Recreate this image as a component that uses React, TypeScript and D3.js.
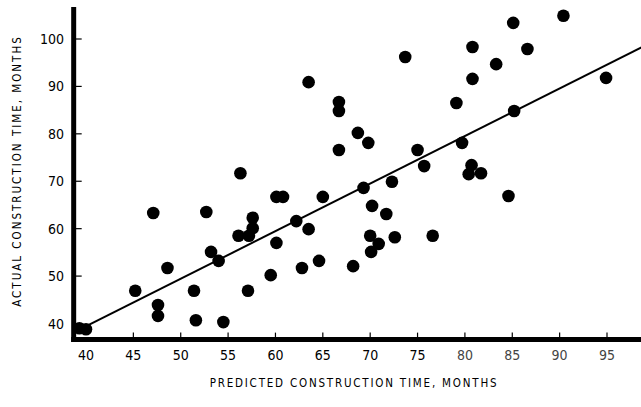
import React, { useRef, useEffect } from 'react';
import * as d3 from 'd3';

// predicted vs actual construction time (months)
const predicted = [
  39.3, 40.0, 45.2, 47.1, 47.6, 47.6, 48.6, 51.4, 51.6, 52.7, 53.2, 54.0, 54.5,
  56.3, 56.1, 57.2, 57.1, 57.6, 57.6, 59.5, 60.1, 60.1, 60.8, 62.2, 62.8, 63.5,
  63.5, 64.6, 65.0, 66.7, 66.7, 66.7, 68.2, 68.7, 69.3, 69.8, 70.0, 70.2, 70.1,
  70.9, 71.7, 72.3, 72.6, 73.7, 75.0, 75.7, 76.6, 79.1, 79.7, 80.7, 80.4, 81.7,
  80.8, 80.8, 83.3, 84.6, 85.1, 85.2, 86.6, 90.4, 94.9,
];
const actual = [
  39.0, 38.8, 46.9, 63.3, 43.9, 41.6, 51.7, 46.9, 40.7, 63.5, 55.1, 53.2, 40.3,
  71.7, 58.5, 58.5, 46.9, 62.3, 60.1, 50.2, 57.0, 66.7, 66.7, 61.6, 51.7, 59.9,
  90.9, 53.2, 66.7, 86.7, 84.8, 76.6, 52.1, 80.2, 68.6, 78.1, 58.5, 64.8, 55.1,
  56.8, 63.1, 69.9, 58.2, 96.2, 76.6, 73.2, 58.5, 86.5, 78.1, 73.4, 71.5, 71.7,
  98.3, 91.6, 94.7, 66.9, 103.4, 84.8, 97.9, 104.9, 91.8,
];
const fitX = [39.5, 98.7];
const fitY = [38.9, 98.3];
const xTicks = [40, 45, 50, 55, 60, 65, 70, 75, 80, 85, 90, 95];
const yTicks = [40, 50, 60, 70, 80, 90, 100];

const W = 641;
const H = 407;

const App = () => {
  const ref = useRef(null);

  useEffect(() => {
    if (!ref.current) return;
    const svg = d3.select(ref.current);
    svg.selectAll('*').remove();

    const x = d3.scaleLinear().domain([40, 95]).range([86, 607]);
    const y = d3.scaleLinear().domain([40, 100]).range([323.5, 39]);
    const numFont = "'Liberation Sans Narrow', 'DejaVu Sans Condensed', sans-serif";
    const labFont = "'DejaVu Sans Condensed', 'DejaVu Sans', sans-serif";

    // fit line
    svg.append('line')
      .attr('x1', x(fitX[0])).attr('y1', y(fitY[0]))
      .attr('x2', x(fitX[1])).attr('y2', y(fitY[1]))
      .attr('stroke', '#000').attr('stroke-width', 2);

    // dots
    svg.append('g').selectAll('circle')
      .data(predicted.map((p, i) => [p, actual[i]]))
      .enter().append('circle')
      .attr('cx', d => x(d[0]))
      .attr('cy', d => y(d[1]))
      .attr('r', 6.3)
      .attr('fill', '#000');

    // axes
    const x0 = x(38.7);
    const y0 = y(36.6);
    svg.append('line')
      .attr('x1', x0).attr('y1', 7).attr('x2', x0).attr('y2', y0 + 2.5)
      .attr('stroke', '#000').attr('stroke-width', 5);
    svg.append('line')
      .attr('x1', x0 - 2.5).attr('y1', y0).attr('x2', W).attr('y2', y0)
      .attr('stroke', '#000').attr('stroke-width', 5);

    // x ticks
    const xt = svg.append('g');
    xt.selectAll('line').data(xTicks.slice(1)).enter().append('line')
      .attr('x1', d => x(d)).attr('x2', d => x(d))
      .attr('y1', y0 - 7).attr('y2', y0)
      .attr('stroke', '#000').attr('stroke-width', 1.2);
    xt.selectAll('text').data(xTicks).enter().append('text')
      .attr('x', d => x(d)).attr('y', 360)
      .attr('text-anchor', 'middle')
      .attr('font-family', numFont).attr('font-size', 14)
      .attr('fill', d => (d >= 80 ? '#444' : '#000'))
      .text(d => d);

    // y ticks
    const yt = svg.append('g');
    yt.selectAll('line').data(yTicks.slice(1)).enter().append('line')
      .attr('x1', x0).attr('x2', x0 + 8)
      .attr('y1', d => y(d)).attr('y2', d => y(d))
      .attr('stroke', '#000').attr('stroke-width', 1.2);
    yt.selectAll('text').data(yTicks).enter().append('text')
      .attr('x', 64).attr('y', d => y(d) + 5)
      .attr('text-anchor', 'end')
      .attr('font-family', numFont).attr('font-size', 14)
      .text(d => d);

    // axis titles
    svg.append('text')
      .attr('x', 354).attr('y', 387)
      .attr('text-anchor', 'middle')
      .attr('font-family', labFont).attr('font-size', 11.5)
      .attr('letter-spacing', 1.8)
      .text('PREDICTED CONSTRUCTION TIME, MONTHS');
    svg.append('text')
      .attr('transform', 'translate(21,171) rotate(-90)')
      .attr('text-anchor', 'middle')
      .attr('font-family', labFont).attr('font-size', 11.5)
      .attr('letter-spacing', 2)
      .text('ACTUAL CONSTRUCTION TIME, MONTHS');
  }, []);

  return (
    <svg ref={ref} width={W} height={H}
      style={{ position: 'absolute', left: 0, top: 0, background: '#fff' }} />
  );
};

export default App;
